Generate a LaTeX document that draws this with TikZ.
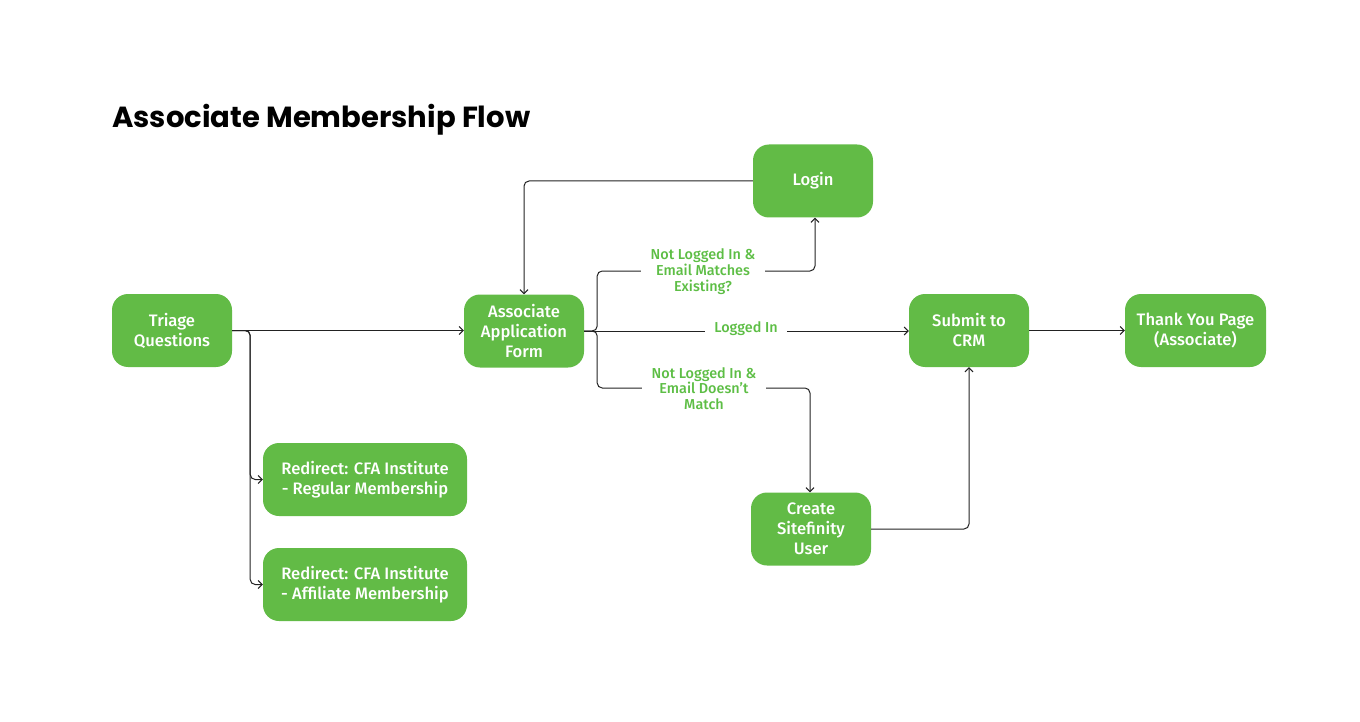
\documentclass[tikz,border=0pt]{standalone}
\usepackage{fontspec}
\usepackage{graphicx}
\setmainfont{Fira Sans Medium}
\newfontfamily\titlefont{Poppins}
\usetikzlibrary{arrows.meta}
\definecolor{cfagreen}{HTML}{62BB46}
\definecolor{labgreen}{HTML}{5DBE45}
\definecolor{linec}{HTML}{222222}
\tikzset{
  box/.style={rounded corners=16pt, fill=cfagreen, text=white, minimum width=120pt,
    minimum height=73pt, align=center, inner sep=0pt, font=\fontsize{16.6}{20}\selectfont},
  conn/.style={draw=linec, line width=1pt, rounded corners=5pt,
    -{Straight Barb[length=4pt,width=8pt,line width=1pt]}},
  lab/.style={fill=white, text=labgreen, align=center, inner xsep=10pt, inner ysep=2pt,
    font=\fontsize{14.4}{15.8}\selectfont}
}
\begin{document}
\begin{tikzpicture}[x=1pt,y=-1pt]
\useasboundingbox (0,0) rectangle (1360,722);
\node[anchor=base west, inner sep=0pt] (title) at (112,128) {\resizebox{418pt}{!}{\titlefont\bfseries Associate Membership Flow}};

\node[box] (tri) at (172,330.5) {Triage\\Questions};
\node[box] (aaf) at (524,331) {Associate\\Application\\Form};
\node[box] (login) at (813,181) {Login};
\node[box] (crm) at (969,330.5) {Submit to\\CRM};
\node[box, minimum width=141pt] (ty) at (1195.5,330.5) {Thank You Page\\(Associate)};
\node[box] (csu) at (811,529) {Create\\Sitefinity\\User};
\node[box, minimum width=204pt] (rr) at (365,479.5) {Redirect: CFA Institute\\- Regular Membership};
\node[box, minimum width=204pt] (ra) at (365,584.5) {Redirect: CFA Institute\\- Affiliate Membership};

\coordinate (m1) at (815,271);
\coordinate (m2) at (810,388);

\draw[conn] (tri.east) -- (aaf.west |- tri.east);
\draw[conn] (tri.east) -- ++(18,0) |- (rr.west);
\draw[conn] (tri.east) -- ++(18,0) |- (ra.west);
\draw[conn] (login.west) -| (aaf.north);
\draw[conn] (aaf.east) -- ++(13,0) |- (m1) -- (m1 |- login.south);
\draw[conn] (aaf.east) -- (crm.west |- aaf.east);
\draw[conn] (aaf.east) -- ++(13,0) |- (m2) -- (m2 |- csu.north);
\draw[conn] (csu.east) -| (crm.south);
\draw[conn] (crm.east) -- (ty.west);

\node[lab] (l1) at (703,271.5) {Not Logged In \&\\Email Matches\\Existing?};
\node[lab, inner xsep=9pt] (l2) at (746,328.5) {Logged In};
\node[lab] (l3) at (704,388.5) {Not Logged In \&\\Email Doesn’t\\Match};
\end{tikzpicture}
\end{document}
